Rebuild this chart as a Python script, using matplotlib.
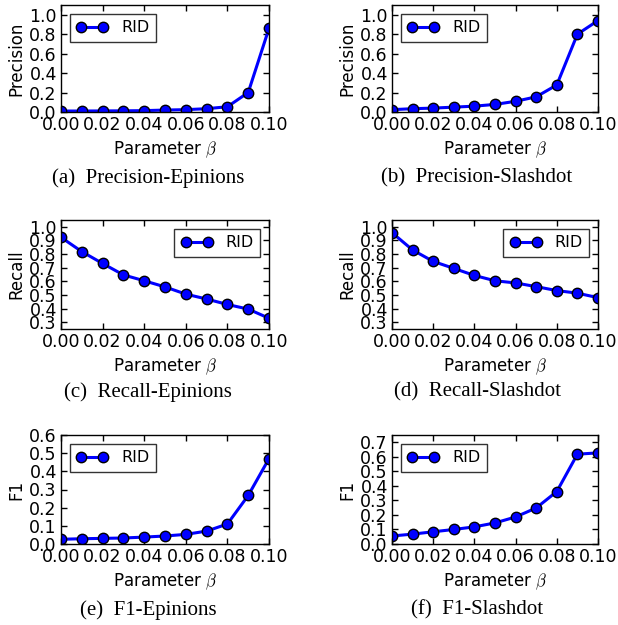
import matplotlib
matplotlib.use('agg')
import matplotlib.pyplot as plt

beta = [0.00, 0.01, 0.02, 0.03, 0.04, 0.05, 0.06, 0.07, 0.08, 0.09, 0.10]

prec_epinions = [0.010, 0.010, 0.011, 0.012, 0.014, 0.020, 0.024, 0.034, 0.054, 0.20, 0.86]
prec_slashdot = [0.024, 0.034, 0.040, 0.050, 0.060, 0.078, 0.110, 0.156, 0.278, 0.80, 0.94]
recall_epinions = [0.923, 0.818, 0.731, 0.647, 0.604, 0.559, 0.506, 0.470, 0.430, 0.396, 0.329]
recall_slashdot = [0.957, 0.830, 0.746, 0.695, 0.643, 0.604, 0.588, 0.561, 0.532, 0.513, 0.480]
f1_epinions = [0.026, 0.029, 0.031, 0.033, 0.038, 0.044, 0.053, 0.071, 0.110, 0.267, 0.470]
f1_slashdot = [0.055, 0.068, 0.084, 0.100, 0.118, 0.145, 0.186, 0.248, 0.361, 0.618, 0.627]

plt.rcParams['mathtext.fontset'] = 'cm'
plt.rcParams['font.family'] = 'DejaVu Sans'

W, H = 618, 625
fig = plt.figure(figsize=(W / 100, H / 100), dpi=100)

# (ylabel, caption, data, ylim, yticks, legend loc)
panels = [
    ('Precision', '(a)  Precision-Epinions', prec_epinions, (0, 1.1), [0, 0.2, 0.4, 0.6, 0.8, 1.0], 'upper left'),
    ('Precision', '(b)  Precision-Slashdot', prec_slashdot, (0, 1.1), [0, 0.2, 0.4, 0.6, 0.8, 1.0], 'upper left'),
    ('Recall', '(c)  Recall-Epinions', recall_epinions, (0.25, 1.05), [0.3, 0.4, 0.5, 0.6, 0.7, 0.8, 0.9, 1.0], 'upper right'),
    ('Recall', '(d)  Recall-Slashdot', recall_slashdot, (0.25, 1.05), [0.3, 0.4, 0.5, 0.6, 0.7, 0.8, 0.9, 1.0], 'upper right'),
    ('F1', '(e)  F1-Epinions', f1_epinions, (0, 0.6), [0, 0.1, 0.2, 0.3, 0.4, 0.5, 0.6], 'upper left'),
    ('F1', '(f)  F1-Slashdot', f1_slashdot, (0, 0.75), [0, 0.1, 0.2, 0.3, 0.4, 0.5, 0.6, 0.7], 'upper left'),
]

col_x = [(61, 269), (392, 598)]
row_y = [(5, 112), (220, 329), (435, 544)]
cap_x = [148, 477]
cap_y = [178, 392, 610]

for i, (ylab, cap, vals, ylim, yt, loc) in enumerate(panels):
    r, c = divmod(i, 2)
    x0, x1 = col_x[c]
    y0, y1 = row_y[r]
    ax = fig.add_axes([x0 / W, 1 - y1 / H, (x1 - x0) / W, (y1 - y0) / H])
    ax.plot(beta, vals, color='blue', lw=2.2, marker='o', ms=7.5,
            mfc='blue', mec='black', mew=1, label='RID')
    ax.set_xlim(0, 0.1)
    ax.set_ylim(*ylim)
    ax.set_xticks([0, 0.02, 0.04, 0.06, 0.08, 0.10])
    ax.set_xticklabels(['%.2f' % v for v in [0, 0.02, 0.04, 0.06, 0.08, 0.10]])
    ax.set_yticks(yt)
    ax.set_yticklabels(['%.1f' % v for v in yt])
    ax.tick_params(direction='in', top=True, right=True, length=4, width=1,
                   labelsize=12.5, pad=3)
    for s in ax.spines.values():
        s.set_linewidth(1)
    ax.set_ylabel(ylab, fontsize=12, labelpad=3)
    ax.set_xlabel(r'Parameter $\beta$', fontsize=12, labelpad=4)
    leg = ax.legend(loc=loc, numpoints=2, fancybox=False, fontsize=11.5,
                    handlelength=2.0, borderpad=0.4, borderaxespad=0.55)
    leg.get_frame().set_edgecolor('black')
    leg.get_frame().set_linewidth(1)
    fig.text(cap_x[c] / W, 1 - cap_y[r] / H, cap, ha='center', va='center',
             fontsize=15, family='Liberation Serif')

fig.savefig('out.png', dpi=100)
